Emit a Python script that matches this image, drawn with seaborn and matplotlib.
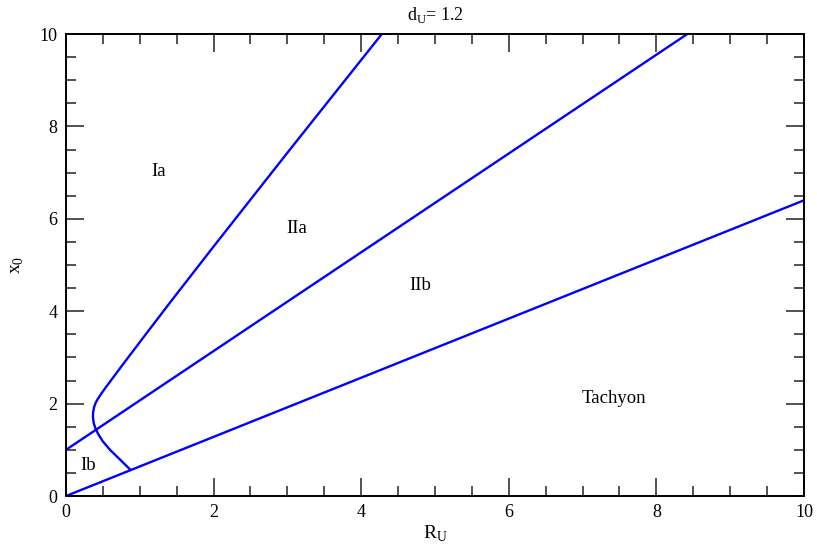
import seaborn as sns
import pandas as pd
import matplotlib.pyplot as plt
from matplotlib.ticker import MultipleLocator

sns.set_theme(style="ticks")
plt.rcParams['font.family'] = ['Liberation Serif', 'DejaVu Serif']
plt.rcParams['mathtext.fontset'] = 'custom'
plt.rcParams['mathtext.rm'] = 'Liberation Serif'
plt.rcParams['text.color'] = 'black'

# boundary lines
tachyon_x = [0.0, 10.0]
tachyon_y = [0.0, 6.4]
iia_x = [0.0, 8.42]
iia_y = [1.0, 10.0]

# curved boundary (Ia / Ib), from lower end up to top
curve_x = [0.876, 0.75, 0.596, 0.50, 0.44, 0.40, 0.375, 0.365, 0.368, 0.38, 0.40,
           0.43, 0.48, 0.55, 0.65, 0.80, 1.09, 1.43, 2.00, 3.00, 4.28]
curve_y = [0.563, 0.76, 1.00, 1.18, 1.33, 1.46, 1.58, 1.72, 1.82, 1.92, 2.01,
           2.10, 2.22, 2.375, 2.59, 2.91, 3.52, 4.23, 5.40, 7.43, 10.0]

region_names = ["Ia", "IIa", "IIb", "Tachyon", "Ib"]
region_x = [1.25, 3.13, 4.8, 7.43, 0.3]
region_y = [7.03, 5.8, 4.55, 2.1, 0.67]

fig = plt.figure(figsize=(8.17, 5.45), dpi=100)
ax = fig.add_axes([0.0808, 0.0899, 0.9032, 0.8477])

blue = "#0000ff"
lw = 1.7
for xs, ys in [(tachyon_x, tachyon_y), (iia_x, iia_y), (curve_x, curve_y)]:
  sns.lineplot(x=xs, y=ys, ax=ax, color=blue, lw=lw, sort=False, estimator=None)

for name, x, y in zip(region_names, region_x, region_y):
  ax.text(x, y, name, fontsize=13.5, ha="center", va="center", color="black")

ax.set_xlim(0, 10)
ax.set_ylim(0, 10)
ax.xaxis.set_major_locator(MultipleLocator(2))
ax.xaxis.set_minor_locator(MultipleLocator(0.5))
ax.yaxis.set_major_locator(MultipleLocator(2))
ax.yaxis.set_minor_locator(MultipleLocator(0.5))
ax.tick_params(which="both", direction="in", top=True, right=True,
               color="#333333", labelcolor="black", labelsize=13, pad=6)
ax.tick_params(which="major", length=13, width=1.2)
ax.tick_params(which="minor", length=7, width=1.2)
for s in ax.spines.values():
  s.set_linewidth(1.4)
  s.set_color("black")

ax.set_xlabel(r"R$_{\rm U}$", fontsize=14, labelpad=2, color="black")
ax.set_ylabel(r"x$_{\rm 0}$", fontsize=14, labelpad=10, color="black")
ax.set_title(r"d$_{\rm U}$= 1.2", fontsize=13, pad=10, color="black")

fig.savefig("out.png", dpi=100)
